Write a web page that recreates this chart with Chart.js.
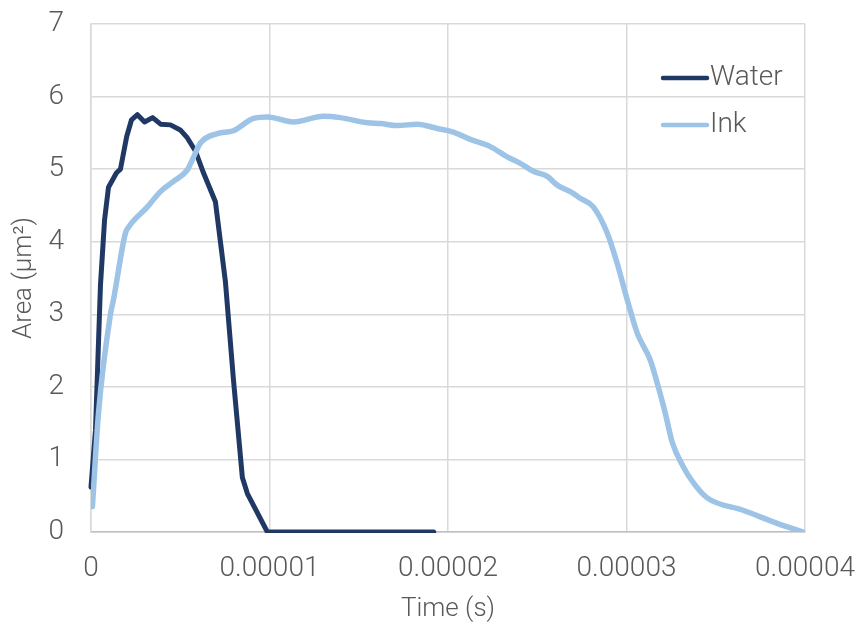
<!DOCTYPE html>
<html>
<head>
<meta charset="utf-8">
<script src="https://cdn.jsdelivr.net/npm/chart.js@4.4.1/dist/chart.umd.min.js"></script>
<style>
  html, body { margin: 0; padding: 0; background: #ffffff; }
  #wrap { width: 859px; height: 628px; position: relative; }
</style>
</head>
<body>
<div id="wrap"><canvas id="chart" width="859" height="628"></canvas></div>
<script>
// Droplet area over time (time in microseconds, area in µm²)
const waterTime = [0, 0.25, 0.53, 0.76, 0.98, 1.43, 1.65, 2.0, 2.27, 2.6, 3.0, 3.45, 3.9, 4.45, 5.0, 5.4, 5.85, 6.3, 6.97, 7.53, 7.98, 8.48, 8.76, 9.88, 19.2];
const waterArea = [0.62, 1.4, 3.4, 4.3, 4.75, 4.95, 5.0, 5.45, 5.68, 5.75, 5.65, 5.71, 5.62, 5.61, 5.54, 5.43, 5.25, 4.95, 4.55, 3.45, 2.1, 0.75, 0.53, 0, 0];

const inkTime = [0.08, 0.42, 1.09, 1.26, 1.93, 2.1, 3.16, 3.89, 4.62, 5.4, 5.68, 6.13, 7.08, 7.98, 9.1, 9.88, 11.34, 13.02, 13.97, 15.48, 16.21, 17.16, 18.28, 19.4, 20.3, 21.25, 22.37, 23.32, 24.05, 24.78, 25.56, 26.12, 26.85, 27.41, 28.14, 28.92, 29.48, 30.04, 30.6, 31.33, 31.78, 32.17, 32.57, 33.18, 33.74, 34.52, 36.53, 38.44, 39.89];
const inkArea = [0.35, 1.64, 3.0, 3.2, 4.12, 4.2, 4.48, 4.69, 4.83, 4.99, 5.13, 5.36, 5.49, 5.53, 5.7, 5.72, 5.65, 5.73, 5.71, 5.64, 5.63, 5.6, 5.62, 5.56, 5.51, 5.41, 5.31, 5.17, 5.08, 4.97, 4.9, 4.78, 4.69, 4.6, 4.48, 4.12, 3.7, 3.2, 2.74, 2.37, 2.0, 1.64, 1.23, 0.9, 0.68, 0.47, 0.3, 0.12, 0.0];

const seriesNames = ['Water', 'Ink'];
const xTickValues = [0, 0.00001, 0.00002, 0.00003, 0.00004];
const yTickValues = [0, 1, 2, 3, 4, 5, 6, 7];

const toPoints = (times, areas) => times.map((t, i) => ({ x: t * 1e-6, y: areas[i] }));

const FONT = 'Roboto, "Liberation Sans", Arial, sans-serif';
const TEXT = '#595959';

// Keep the plot box fixed: labels may overhang into the outer margin
function noLabelPadding(scale) {
  scale.paddingTop = 0;
  scale.paddingBottom = 0;
  scale.paddingLeft = 0;
  scale.paddingRight = 0;
}

// Legend drawn inside the plot area, top-right
const insideLegend = {
  id: 'insideLegend',
  afterDatasetsDraw(chart) {
    const { ctx, chartArea } = chart;
    const x0 = chartArea.right - 142;
    const x1 = chartArea.right - 98;
    const tx = chartArea.right - 95;
    const rows = [chartArea.top + 54, chartArea.top + 101];
    ctx.save();
    chart.data.datasets.forEach((ds, i) => {
      const y = rows[i];
      ctx.strokeStyle = ds.borderColor;
      ctx.lineWidth = 4.5;
      ctx.lineCap = 'round';
      ctx.beginPath();
      ctx.moveTo(x0, y);
      ctx.lineTo(x1, y);
      ctx.stroke();
      ctx.fillStyle = TEXT;
      ctx.font = '300 28px ' + FONT;
      ctx.textAlign = 'left';
      ctx.textBaseline = 'middle';
      ctx.fillText(ds.label, tx, y);
    });
    ctx.restore();
  }
};

new Chart(document.getElementById('chart'), {
  type: 'line',
  data: {
    datasets: [
      {
        label: seriesNames[0],
        data: toPoints(waterTime, waterArea),
        borderColor: '#203864',
        borderWidth: 5,
        tension: 0,
        borderJoinStyle: 'round',
        borderCapStyle: 'round',
        pointRadius: 0,
        fill: false,
        clip: { left: 3, top: 3, right: 3, bottom: 1 },
        order: 2
      },
      {
        label: seriesNames[1],
        data: toPoints(inkTime, inkArea),
        borderColor: '#9DC3E6',
        borderWidth: 5.5,
        cubicInterpolationMode: 'monotone',
        borderJoinStyle: 'round',
        borderCapStyle: 'round',
        pointRadius: 0,
        fill: false,
        order: 1
      }
    ]
  },
  options: {
    responsive: false,
    animation: false,
    layout: { padding: { top: 24, right: 54, left: 0, bottom: 0 } },
    plugins: {
      legend: { display: false },
      tooltip: { enabled: false }
    },
    scales: {
      x: {
        type: 'linear',
        min: 0,
        max: 0.00004,
        afterBuildTicks(scale) { scale.ticks = xTickValues.map(v => ({ value: v })); },
        afterFit(scale) { scale.height = 96; noLabelPadding(scale); },
        grid: { color: '#d9d9d9', lineWidth: 1.5, drawTicks: false },
        border: { color: '#bfbfbf', width: 1.5 },
        ticks: {
          padding: 20,
          color: TEXT,
          font: { family: FONT, size: 28, weight: '300' },
          maxRotation: 0,
          callback: v => (v === 0 ? '0' : v.toFixed(5))
        },
        title: {
          display: true,
          text: 'Time (s)',
          color: TEXT,
          font: { family: FONT, size: 26, weight: '300' },
          padding: { top: 0, bottom: 3 }
        }
      },
      y: {
        min: 0,
        max: 7,
        afterBuildTicks(scale) { scale.ticks = yTickValues.map(v => ({ value: v })); },
        afterFit(scale) { scale.width = 91; noLabelPadding(scale); },
        grid: { color: '#d9d9d9', lineWidth: 1.5, drawTicks: false },
        border: { color: '#d9d9d9', width: 1.5 },
        ticks: {
          padding: 27,
          color: TEXT,
          font: { family: FONT, size: 28, weight: '300' },
          callback: v => String(v)
        },
        title: {
          display: true,
          text: 'Area (μm²)',
          color: TEXT,
          font: { family: FONT, size: 26, weight: '300' },
          padding: { top: 9, bottom: 0 }
        }
      }
    }
  },
  plugins: [insideLegend]
});
</script>
</body>
</html>
